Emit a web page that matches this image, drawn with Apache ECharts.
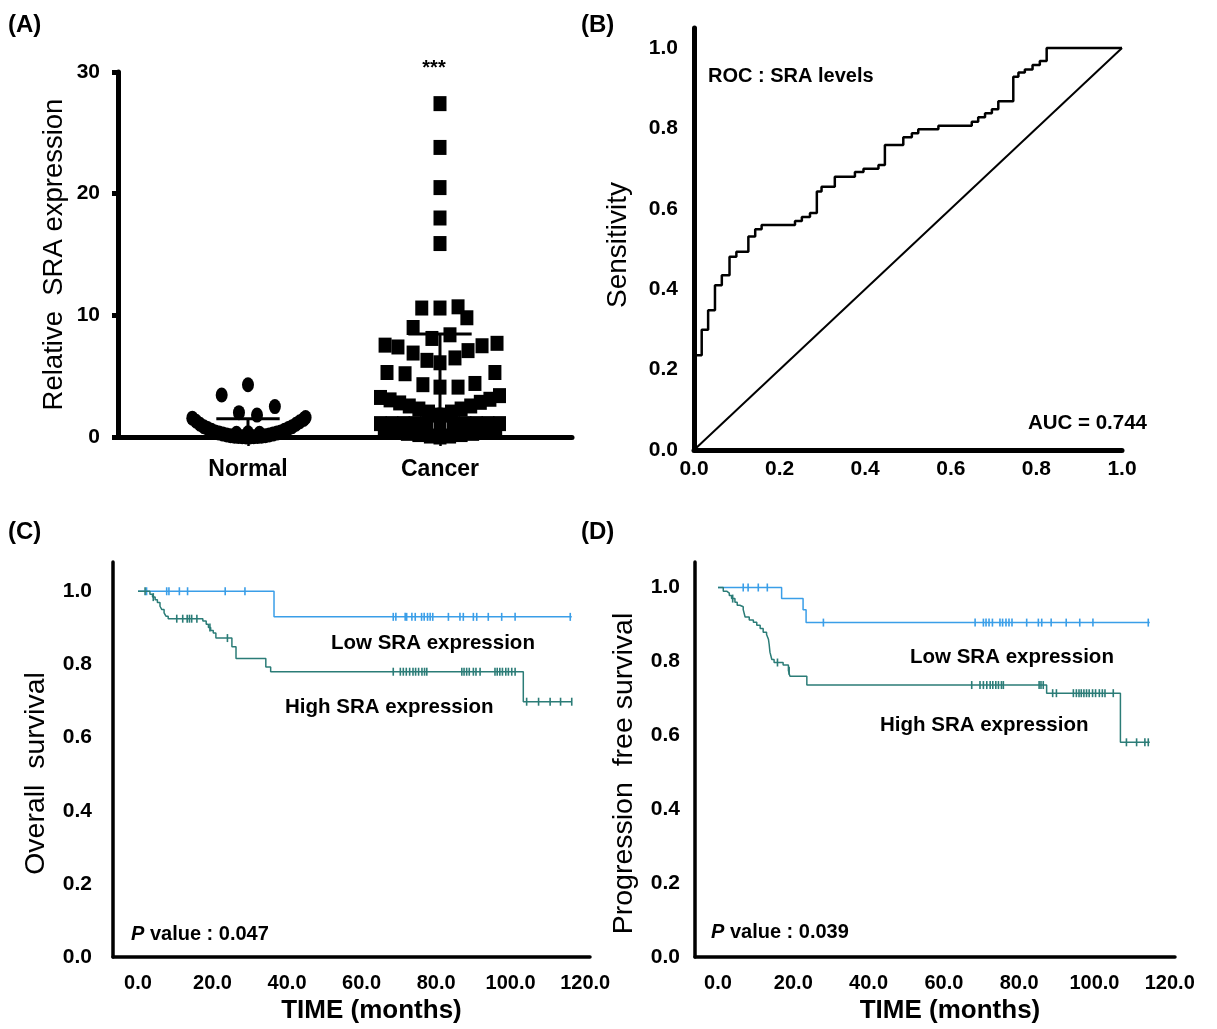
<!DOCTYPE html>
<html>
<head>
<meta charset="utf-8">
<script src="https://cdn.jsdelivr.net/npm/echarts@6/dist/echarts.min.js"></script>
<style>
  html, body { margin: 0; padding: 0; background: #fff; }
  #chart { width: 1217px; height: 1029px; }
</style>
</head>
<body>
<div id="chart"></div>
<script>
// ---- (A) scatter dot plot: [offset from column centre, value] ----
const groups = ['Normal', 'Cancer'];
const normalPts = [
  [-0.137, 3.45], [0, 4.3], [0.14, 2.5], [-0.047, 2.0], [0.047, 1.8],
  [-0.29, 1.55], [-0.27, 1.3], [-0.25, 1.05], [-0.23, 0.85], [-0.21, 0.7], [-0.19, 0.55],
  [-0.17, 0.42], [-0.15, 0.32], [-0.13, 0.24], [-0.11, 0.17], [-0.09, 0.11], [-0.07, 0.07],
  [-0.05, 0.04], [-0.03, 0.02], [-0.01, 0.01], [0.01, 0.01], [0.03, 0.02], [0.05, 0.04],
  [0.07, 0.07], [0.09, 0.11], [0.11, 0.17], [0.13, 0.24], [0.15, 0.32], [0.17, 0.42],
  [0.19, 0.55], [0.21, 0.7], [0.23, 0.85], [0.25, 1.05], [0.27, 1.25], [0.29, 1.45], [0.30, 1.6],
  [-0.06, 0.3], [0, 0.35], [0.06, 0.3]
];
const cancerPts = [
  [0, 27.4], [0, 23.8], [0, 20.5], [0, 18.0], [0, 15.9],
  [-0.095, 10.6], [0, 10.6], [0.094, 10.7], [0.14, 9.8], [-0.14, 9.0], [-0.042, 8.1], [0.052, 8.4],
  [-0.286, 7.55], [-0.219, 7.4], [-0.14, 6.9], [-0.068, 6.3], [0, 6.1], [0.078, 6.5], [0.146, 7.1], [0.219, 7.5], [0.297, 7.7],
  [-0.276, 5.3], [-0.182, 5.2], [-0.089, 4.3], [0, 4.1], [0.094, 4.1], [0.182, 4.4], [0.286, 5.3],
  [-0.31, 3.25], [-0.26, 3.05], [-0.21, 2.8], [-0.16, 2.55], [-0.11, 2.3], [-0.06, 2.05], [-0.02, 1.8],
  [0.02, 1.8], [0.06, 2.05], [0.11, 2.3], [0.16, 2.55], [0.21, 2.85], [0.26, 3.1], [0.31, 3.4],
  [-0.31, 1.1], [-0.25, 1.1], [-0.19, 1.1], [-0.13, 1.1], [-0.07, 1.1], [0, 1.1], [0.07, 1.1],
  [0.13, 1.1], [0.19, 1.1], [0.25, 1.1], [0.31, 1.1],
  [-0.29, 0.5], [-0.23, 0.4], [-0.17, 0.3], [-0.11, 0.2], [-0.05, 0.08], [0, 0],
  [0.05, 0.08], [0.11, 0.2], [0.17, 0.3], [0.23, 0.4], [0.29, 0.5]
];
const groupSD = [1.5, 8.46];   // upper error bar of each column

// ---- (B) ROC curve: [false positive rate, sensitivity] at each step ----
const rocPts = [
  [0, 0], [0, 0.236], [0.018, 0.299], [0.033, 0.348], [0.049, 0.41], [0.065, 0.435],
  [0.083, 0.481], [0.099, 0.493], [0.127, 0.531], [0.143, 0.549], [0.158, 0.56],
  [0.236, 0.57], [0.252, 0.58], [0.271, 0.59], [0.287, 0.643], [0.298, 0.655],
  [0.329, 0.68], [0.376, 0.692], [0.396, 0.70], [0.431, 0.709], [0.446, 0.759],
  [0.489, 0.778], [0.509, 0.788], [0.524, 0.798], [0.571, 0.807], [0.649, 0.817],
  [0.664, 0.828], [0.68, 0.838], [0.696, 0.848], [0.711, 0.868], [0.746, 0.929],
  [0.758, 0.939], [0.773, 0.947], [0.791, 0.958], [0.808, 0.968], [0.824, 1.0], [1.0, 1.0]
];
const chanceLine = [[0, 0], [1, 1]];

// ---- (C) overall survival: [months, survival] after each event, censor times ----
const osLow = [[0, 1], [36.5, 0.93], [116.4, 0.93]];
const osLowCens = [2.3, 7.7, 8.3, 11.1, 13.3, 23.4, 28.7, 68.5, 69.2, 71.7, 72.1, 73.5, 74.4,
  76.1, 76.8, 77.7, 78.4, 79.1, 83.3, 86.4, 87.3, 90, 90.9, 94, 97.6, 101.2, 116];
const osHigh = [[0, 1], [3.2, 0.992], [3.9, 0.984], [4.6, 0.977], [5.2, 0.969], [5.9, 0.959],
  [6.4, 0.95], [7.0, 0.941], [7.5, 0.932], [8.1, 0.925], [17.4, 0.919], [18.3, 0.91],
  [18.9, 0.901], [19.5, 0.893], [20.2, 0.886], [20.9, 0.872], [25.2, 0.848], [26.3, 0.816],
  [34.3, 0.793], [35.6, 0.78], [103.4, 0.698], [116.4, 0.698]];
const osHighCens = [1.9, 4.1, 10.4, 12.0, 13.2, 13.8, 14.4, 15.8, 19.3, 24, 68.5, 70.4, 71.2,
  72.0, 72.9, 73.8, 74.5, 75.3, 76.2, 76.9, 77.5, 86.9, 87.5, 88.2, 88.9, 90.0, 90.7, 91.8,
  95.8, 96.4, 97.1, 97.8, 98.7, 99.4, 100.3, 101.2, 104.3, 107.5, 110.6, 113.4, 116.4];

// ---- (D) progression free survival ----
const pfsLow = [[0, 1], [16.9, 0.97], [22.6, 0.94], [23.4, 0.905], [114.7, 0.905]];
const pfsLowCens = [6.7, 8.0, 10.7, 13.1, 28.0, 68.3, 70.5, 71.2, 72.0, 72.9, 74.9, 75.6, 76.5,
  77.3, 78.1, 82, 85.1, 86, 88.5, 92.5, 96.1, 99.6, 114.3];
const pfsHigh = [[0, 1], [1.4, 0.99], [2.3, 0.985], [3.0, 0.978], [3.6, 0.97], [4.5, 0.96],
  [5.1, 0.952], [5.8, 0.948], [6.7, 0.94], [7.2, 0.92], [8.3, 0.912], [9.4, 0.906],
  [10.3, 0.898], [11.2, 0.889], [12.0, 0.879], [12.9, 0.873], [13.4, 0.86], [13.6, 0.845],
  [13.8, 0.825], [14.3, 0.805], [14.9, 0.797], [17.3, 0.79], [18.7, 0.775], [19.1, 0.76],
  [23.6, 0.736], [87.3, 0.714], [106.9, 0.581], [114.7, 0.581]];
const pfsHighCens = [3.9, 15.8, 18.9, 67.4, 69.6, 70.5, 71.4, 72.3, 73.0, 73.8, 74.5, 75.3, 75.8,
  85.3, 85.8, 86.4, 88.9, 89.9, 94.4, 95.2, 95.9, 96.5, 97.2, 97.9, 98.6, 99.5, 100.3, 101.3,
  102.1, 102.8, 105.0, 108.5, 111.2, 113.4, 114.3];

const timeTicks = [0, 20, 40, 60, 80, 100, 120];
const probTicks = [0, 0.2, 0.4, 0.6, 0.8, 1.0];

// ---- styles ----
const FONT = 'Arial, "Liberation Sans", sans-serif';
const LOW = '#3a9ee8';
const HIGH = '#2b7c77';
const ELLIPSE = 'path://M0,50A50,50,0,1,1,100,50A50,50,0,1,1,0,50Z';

// survival value at time t (step function)
const survAt = (curve, t) => {
  let v = curve[0][1];
  for (const p of curve) { if (p[0] <= t) v = p[1]; }
  return v;
};

const boldLabel = (size, margin, fmt, custom) => ({
  color: '#000', fontFamily: FONT, fontWeight: 'bold', fontSize: size, margin,
  formatter: fmt, customValues: custom
});

const axisLine = (w) => ({ show: true, onZero: false, lineStyle: { color: '#000', width: w } });

const nameStyle = (size, extra) => Object.assign(
  { color: '#000', fontFamily: FONT, fontSize: size }, extra || {});

const chart = echarts.init(document.getElementById('chart'));

const txt = (x, y, text, size, extra) => ({
  type: 'text', x, y, z: 100,
  style: Object.assign({
    text, fill: '#000', fontFamily: FONT, fontWeight: 'bold', fontSize: size,
    textAlign: 'left', textVerticalAlign: 'middle'
  }, extra || {})
});
const pText = (x, y, val) => txt(x, y, '{i|P} value : ' + val, 20, {
  rich: { i: { fontStyle: 'italic', fontWeight: 'bold', fontSize: 20, fontFamily: FONT } }
});

const option = {
  backgroundColor: '#fff',
  animation: false,
  grid: [
    { left: 118, top: 72, width: 454, height: 365 },   // A
    { left: 694, top: 28, width: 428, height: 422 },   // B
    { left: 113, top: 562, width: 477, height: 395 },  // C
    { left: 695, top: 562, width: 480, height: 395 }   // D
  ],
  xAxis: [
    {
      gridIndex: 0, type: 'value', min: 0.323, max: 2.6875,
      axisLine: axisLine(5),
      axisTick: { show: true, length: 9, customValues: [1, 2], lineStyle: { color: '#000', width: 2.5 } },
      axisLabel: boldLabel(23, 21, (v) => groups[Math.round(v) - 1], [1, 2]),
      splitLine: { show: false }
    },
    {
      gridIndex: 1, type: 'value', min: 0, max: 1, interval: 0.2,
      axisLine: axisLine(5), axisTick: { show: false },
      axisLabel: boldLabel(21, 9, (v) => v.toFixed(1)),
      splitLine: { show: false }
    },
    {
      gridIndex: 2, type: 'value', min: -6.71, max: 121.3,
      axisLine: axisLine(3.5), axisTick: { show: false },
      axisLabel: boldLabel(20, 16, (v) => v.toFixed(1), timeTicks),
      splitLine: { show: false },
      name: 'TIME (months)', nameLocation: 'middle', nameGap: 41,
      nameTextStyle: nameStyle(26, { fontWeight: 'bold', padding: [0, 0, 0, 40] })
    },
    {
      gridIndex: 3, type: 'value', min: -6.11, max: 121.4,
      axisLine: axisLine(3.5), axisTick: { show: false },
      axisLabel: boldLabel(20, 16, (v) => v.toFixed(1), timeTicks),
      splitLine: { show: false },
      name: 'TIME (months)', nameLocation: 'middle', nameGap: 41,
      nameTextStyle: nameStyle(26, { fontWeight: 'bold', padding: [0, 0, 0, 30] })
    }
  ],
  yAxis: [
    {
      gridIndex: 0, type: 'value', min: 0, max: 30, interval: 10,
      axisLine: axisLine(5),
      axisTick: { show: true, length: 6, lineStyle: { color: '#000', width: 5 } },
      axisLabel: boldLabel(21, 18),
      splitLine: { show: false },
      name: 'Relative  SRA expression', nameLocation: 'middle', nameRotate: 90, nameGap: 50,
      nameTextStyle: nameStyle(27.5)
    },
    {
      gridIndex: 1, type: 'value', min: 0, max: 1.05,
      axisLine: axisLine(5), axisTick: { show: false },
      axisLabel: boldLabel(21, 16, (v) => v.toFixed(1), probTicks),
      splitLine: { show: false },
      name: 'Sensitivity', nameLocation: 'middle', nameRotate: 90, nameGap: 62,
      nameTextStyle: nameStyle(28, { padding: [0, 12, 0, 0] })
    },
    {
      gridIndex: 2, type: 'value', min: 0, max: 1.08,
      axisLine: axisLine(3.5), axisTick: { show: false },
      axisLabel: boldLabel(21, 21, (v) => v.toFixed(1), probTicks),
      splitLine: { show: false },
      name: 'Overall  survival', nameLocation: 'middle', nameRotate: 90, nameGap: 62,
      nameTextStyle: nameStyle(28.5, { padding: [0, 28, 0, 0] })
    },
    {
      gridIndex: 3, type: 'value', min: 0, max: 1.069,
      axisLine: axisLine(3.5), axisTick: { show: false },
      axisLabel: boldLabel(21, 15, (v) => v.toFixed(1), probTicks),
      splitLine: { show: false },
      name: 'Progression  free survival', nameLocation: 'middle', nameRotate: 90, nameGap: 56,
      nameTextStyle: nameStyle(28.5, { padding: [0, 28, 0, 0] })
    }
  ],
  series: [
    // (A)
    {
      type: 'scatter', xAxisIndex: 0, yAxisIndex: 0, clip: false,
      symbol: ELLIPSE, symbolSize: [12, 15], itemStyle: { color: '#000', opacity: 1 },
      data: normalPts.map((p) => [1 + p[0], p[1]])
    },
    {
      type: 'scatter', xAxisIndex: 0, yAxisIndex: 0, clip: false,
      symbol: 'rect', symbolSize: [13, 15], itemStyle: { color: '#000', opacity: 1 },
      data: cancerPts.map((p) => [2 + p[0], p[1]])
    },
    {
      type: 'custom', xAxisIndex: 0, yAxisIndex: 0, clip: false, z: 5,
      data: groupSD.map((v, i) => [i + 1, v]),
      renderItem: (params, api) => {
        const c = api.value(0), top = api.value(1);
        const l = api.coord([c - 0.165, top]);
        const r = api.coord([c + 0.165, top]);
        const b = api.coord([c, 0]);
        const t = api.coord([c, top]);
        return {
          type: 'group', children: [
            { type: 'line', shape: { x1: l[0], y1: l[1], x2: r[0], y2: r[1] }, style: { stroke: '#000', lineWidth: 3 } },
            { type: 'line', shape: { x1: t[0], y1: t[1], x2: b[0], y2: b[1] }, style: { stroke: '#000', lineWidth: 3 } }
          ]
        };
      }
    },
    // (B)
    {
      type: 'line', xAxisIndex: 1, yAxisIndex: 1, step: 'end', showSymbol: false,
      lineStyle: { color: '#000', width: 2.5 }, data: rocPts
    },
    {
      type: 'line', xAxisIndex: 1, yAxisIndex: 1, showSymbol: false,
      lineStyle: { color: '#000', width: 2 }, data: chanceLine
    },
    // (C)
    {
      type: 'line', xAxisIndex: 2, yAxisIndex: 2, step: 'end', showSymbol: false,
      lineStyle: { color: LOW, width: 1.5 }, data: osLow
    },
    {
      type: 'line', xAxisIndex: 2, yAxisIndex: 2, step: 'end', showSymbol: false,
      lineStyle: { color: HIGH, width: 1.5 }, data: osHigh
    },
    {
      type: 'scatter', xAxisIndex: 2, yAxisIndex: 2, symbol: 'rect', symbolSize: [1.6, 8],
      itemStyle: { color: LOW, opacity: 1 }, data: osLowCens.map((t) => [t, survAt(osLow, t)])
    },
    {
      type: 'scatter', xAxisIndex: 2, yAxisIndex: 2, symbol: 'rect', symbolSize: [1.6, 8],
      itemStyle: { color: HIGH, opacity: 1 }, data: osHighCens.map((t) => [t, survAt(osHigh, t)])
    },
    // (D)
    {
      type: 'line', xAxisIndex: 3, yAxisIndex: 3, step: 'end', showSymbol: false,
      lineStyle: { color: LOW, width: 1.5 }, data: pfsLow
    },
    {
      type: 'line', xAxisIndex: 3, yAxisIndex: 3, step: 'end', showSymbol: false,
      lineStyle: { color: HIGH, width: 1.5 }, data: pfsHigh
    },
    {
      type: 'scatter', xAxisIndex: 3, yAxisIndex: 3, symbol: 'rect', symbolSize: [1.6, 8],
      itemStyle: { color: LOW, opacity: 1 }, data: pfsLowCens.map((t) => [t, survAt(pfsLow, t)])
    },
    {
      type: 'scatter', xAxisIndex: 3, yAxisIndex: 3, symbol: 'rect', symbolSize: [1.6, 8],
      itemStyle: { color: HIGH, opacity: 1 }, data: pfsHighCens.map((t) => [t, survAt(pfsHigh, t)])
    }
  ],
  graphic: [
    txt(8, 25, '(A)', 24),
    txt(581, 25, '(B)', 24),
    txt(8, 532, '(C)', 24),
    txt(581, 532, '(D)', 24),
    txt(434, 68, '***', 20, { textAlign: 'center' }),
    txt(708, 76, 'ROC : SRA levels', 20),
    txt(1147, 423, 'AUC = 0.744', 20.5, { textAlign: 'right' }),
    txt(331, 643, 'Low SRA expression', 20.5),
    txt(285, 707, 'High SRA expression', 20.5),
    pText(131, 934, '0.047'),
    txt(910, 657, 'Low SRA expression', 20.5),
    txt(880, 725, 'High SRA expression', 20.5),
    pText(711, 932, '0.039')
  ]
};

chart.setOption(option);
</script>
</body>
</html>
